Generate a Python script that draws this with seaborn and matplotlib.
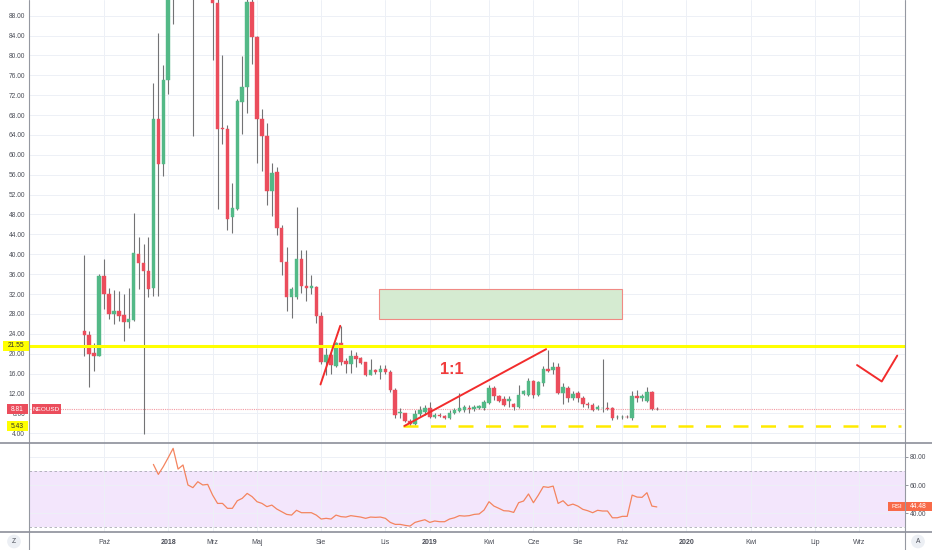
import numpy as np
import pandas as pd
import matplotlib
matplotlib.use('Agg')
import matplotlib.pyplot as plt
import matplotlib.transforms as mtransforms
from matplotlib.patches import Rectangle
from matplotlib.lines import Line2D
import seaborn as sns

# weekly NEOUSD candles, first bar week of 2017-09-04
first_week = '2017-09-04'
opens = [24.5, 23.8, 20.1, 19.6, 35.6, 32.1, 27.9, 28.6, 27.7, 26.4,
         26.8, 40.1, 38.2, 36.6, 33.2, 67.2, 58.1, 75.1, 110, 140,
         125, 130, 105, 100, 115, 110, 96, 90.6, 65.5, 65.3,
         47.4, 49.2, 70.7, 73.6, 90.8, 83.8, 67.2, 63.7, 52.8, 56.5,
         45.3, 38.5, 31.3, 31.3, 39.0, 33.6, 33.2, 33.5, 27.6, 18.4,
         19.7, 17.6, 22.1, 18.5, 17.9, 19.5, 19.1, 18.3, 15.8, 16.7,
         16.3, 16.9, 16.4, 12.6, 8.0, 8.0, 6.5, 5.85, 7.9, 8.3,
         9.0, 7.2, 7.6, 7.5, 7.0, 8.1, 8.5, 8.7, 9.0, 8.8,
         9.1, 9.0, 10.1, 13.0, 11.5, 10.8, 10.5, 9.8, 9.2, 11.9,
         11.7, 14.4, 11.7, 14.0, 16.9, 16.7, 17.4, 12.0, 13.0, 11.0,
         12.0, 11.0, 9.9, 9.7, 8.8, 9.0, 9.0, 9.0, 7.2, 7.2,
         7.3, 7.0, 11.5, 11.0, 10.5, 12.2, 8.9]
highs = [39.9, 24.5, 22.1, 36.0, 39.0, 33.3, 32.8, 32.6, 32.0, 33.3,
         48.4, 43.5, 42.1, 43.4, 74.4, 84.5, 78.1, 120, 162, 150,
         140, 135, 115, 125, 130, 120, 100, 93, 80.0, 66.0,
         54.4, 71.2, 79.8, 93, 92, 84.0, 69.2, 66.5, 58.3, 57.6,
         45.9, 41.4, 33.5, 49.5, 40.9, 40.9, 35.8, 33.6, 28.3, 21.1,
         20.4, 22.3, 25.6, 19.1, 20.7, 20.4, 19.3, 18.4, 18.9, 17.0,
         17.7, 17.7, 16.7, 13.0, 9.0, 8.1, 6.8, 8.7, 9.5, 9.7,
         10.3, 8.0, 8.0, 7.6, 8.7, 9.0, 12.0, 9.7, 9.7, 9.7,
         9.7, 10.7, 13.7, 13.4, 11.7, 11.4, 11.4, 10.1, 13.7, 12.7,
         15.0, 14.7, 14.4, 17.5, 20.7, 18.4, 18.1, 14.0, 13.4, 12.4,
         12.4, 11.4, 10.3, 10.0, 9.7, 18.9, 10.3, 9.2, 7.7, 7.7,
         7.7, 12.4, 12.6, 11.9, 13.3, 12.4, 9.2]
lows = [19.6, 13.2, 16.6, 19.5, 28.9, 27.0, 26.0, 26.6, 22.6, 25.1,
        26.5, 33.0, 3.8, 31.3, 31.5, 31.5, 55.8, 72.2, 86.3, 95,
        110, 95, 63.7, 95, 105, 94, 79.1, 49.2, 62.2, 44.9,
        44.2, 48.9, 64.2, 68.4, 78.2, 58.4, 56.8, 50.0, 47.6, 43.9,
        35.8, 28.6, 27.1, 31.0, 32.3, 30.5, 32.1, 26.1, 18.0, 15.7,
        16.0, 17.3, 17.7, 16.2, 16.2, 17.3, 17.9, 15.5, 15.7, 16.0,
        14.9, 16.0, 12.3, 7.0, 7.0, 6.2, 5.45, 5.6, 7.5, 7.7,
        7.0, 7.0, 7.2, 6.9, 6.8, 7.9, 8.3, 8.3, 8.1, 8.4,
        8.9, 8.7, 9.9, 10.7, 10.3, 9.5, 9.3, 8.7, 9.0, 11.7,
        11.4, 11.0, 11.4, 13.4, 16.4, 16.0, 11.9, 9.9, 10.3, 10.7,
        10.3, 9.3, 9.0, 8.5, 8.7, 8.3, 8.7, 6.7, 6.8, 6.9,
        7.0, 6.7, 10.3, 10.5, 10.3, 8.7, 8.6]
closes = [23.8, 19.9, 19.5, 35.6, 32.1, 27.9, 28.6, 27.6, 26.4, 27.0,
          40.2, 38.2, 36.6, 33.0, 67.2, 58.1, 75.1, 110, 140, 125,
          130, 105, 100, 115, 110, 96, 90.6, 65.3, 65.2, 47.1,
          49.4, 70.8, 73.6, 90.8, 83.8, 67.2, 63.7, 52.8, 56.3, 45.3,
          38.5, 31.3, 33.0, 39.0, 33.6, 33.2, 33.6, 27.6, 18.4, 19.7,
          17.7, 22.1, 18.4, 17.9, 19.5, 18.9, 18.2, 15.8, 16.7, 16.3,
          16.9, 16.3, 12.6, 7.7, 8.3, 6.5, 5.8, 7.8, 8.7, 9.0,
          7.2, 7.7, 7.5, 7.0, 8.1, 8.7, 9.1, 9.3, 8.9, 9.3,
          9.5, 10.3, 13.0, 11.4, 10.5, 9.7, 10.9, 9.2, 11.7, 12.4,
          14.4, 11.6, 14.2, 16.9, 16.6, 17.4, 12.0, 13.2, 11.0, 11.9,
          11.0, 9.9, 9.6, 8.7, 9.3, 9.05, 8.9, 7.0, 7.2, 7.3,
          7.2, 11.5, 11.0, 11.5, 12.2, 8.9, 8.81]

# RSI(14), first value on bar 14
rsi_start = 14
rsi_values = [74.7, 67.6, 73.1, 79.5, 86.1, 71.4, 74.3, 60.1, 58.2, 62.4,
              60.1, 60.5, 52.9, 47.0, 47.0, 43.5, 43.5, 48.9, 50.6, 54.1,
              51.8, 48.2, 47.0, 44.7, 45.8, 43.0, 41.1, 39.2, 38.7, 42.1,
              40.4, 40.4, 40.4, 38.7, 35.9, 36.4, 35.9, 38.7, 37.6, 37.3,
              38.3, 37.8, 37.3, 36.4, 37.3, 37.1, 37.3, 36.4, 33.5, 32.1,
              32.1, 31.4, 30.9, 33.5, 34.5, 35.4, 33.5, 34.5, 34.0, 34.0,
              35.9, 36.8, 38.3, 38.0, 38.3, 39.2, 39.5, 42.3, 48.2, 45.1,
              43.5, 41.8, 41.6, 40.6, 47.5, 48.7, 53.7, 47.5, 52.9, 58.9,
              58.4, 59.3, 47.0, 48.9, 45.4, 46.5, 45.1, 42.8, 41.8, 40.4,
              42.1, 41.6, 41.6, 36.8, 36.8, 37.8, 37.8, 52.9, 51.5, 51.3,
              54.6, 45.1, 44.5]

tick_dates = ['2017-10-02', '2018-01-01', '2018-03-05', '2018-05-07', '2018-08-06',
              '2018-11-05', '2019-01-07', '2019-04-01', '2019-06-03', '2019-08-05',
              '2019-10-07', '2020-01-06', '2020-04-06', '2020-07-06', '2020-09-07']
tick_labels = ['Paź', '2018', 'Mrz', 'Maj', 'Sie', 'Lis', '2019', 'Kwi', 'Cze',
               'Sie', 'Paź', '2020', 'Kwi', 'Lip', 'Wrz']

resistance = 21.55
support = 5.43
last_price = 8.81
last_rsi = 44.48

# drawings on the chart
zone_dates = ['2018-10-27', '2019-10-06']
zone_prices = [27.0, 33.0]
leg1_dates = ['2018-08-05', '2018-09-02']
leg1_prices = [13.8, 25.6]
leg2_dates = ['2018-12-02', '2019-06-21']
leg2_prices = [5.45, 20.9]
check_dates = ['2020-09-04', '2020-10-09', '2020-10-31']
check_prices = [17.7, 14.4, 19.6]
support_dates = ['2018-11-30', '2020-11-06']
ratio_date = '2019-02-07'
ratio_price = 16.9

sns.set_style('white')
plt.rcParams['font.family'] = ['Liberation Sans', 'DejaVu Sans']

W, H = 932, 550
fig = plt.figure(figsize=(W / 100, H / 100), dpi=100)
left, right = 29.3, 905
sep1, sep2 = 443.3, 531.7
ax = fig.add_axes([left / W, 1 - sep1 / H, (right - left) / W, sep1 / H])
ax2 = fig.add_axes([left / W, 1 - sep2 / H, (right - left) / W, (sep2 - sep1) / H])

dates = pd.date_range(first_week, periods=len(opens), freq='7D')
df = pd.DataFrame({'date': dates, 'open': opens, 'high': highs, 'low': lows, 'close': closes})
up = df['close'] >= df['open']
colors = np.where(up, '#53b987', '#eb4d5c')

xlim = (pd.Timestamp('2017-06-18'), pd.Timestamp('2020-11-11'))
grid_c = '#edf0f6'
txt_c = '#4a4d57'

# ---- main pane
ax.vlines(df['date'], df['low'], df['high'], color='#737375', lw=0.8, zorder=3)
body_low = df[['open', 'close']].min(axis=1)
body_h = (df['close'] - df['open']).abs().clip(lower=0.15)
ax.bar(df['date'], body_h, bottom=body_low, width=5, color=colors,
       edgecolor=colors, linewidth=0.3, zorder=4)

ax.axhline(resistance, color='#ffff00', lw=2.2, zorder=5)
ax.axhline(last_price, color='#f39aa2', lw=0.8, ls=(0, (1, 1)), zorder=2)
ax.plot(pd.to_datetime(support_dates), [support, support], color='#ffea00',
        lw=1.8, ls=(0, (6, 5)), zorder=5)

zx = pd.to_datetime(zone_dates)
ax.add_patch(Rectangle((zx[0], zone_prices[0]), zx[1] - zx[0], zone_prices[1] - zone_prices[0],
                       facecolor='#d5ebd1', edgecolor='#f08a84', lw=0.8, zorder=2))
for ds, ps in [(leg1_dates, leg1_prices), (leg2_dates, leg2_prices), (check_dates, check_prices)]:
    ax.plot(pd.to_datetime(ds), ps, color='#f22c2c', lw=1.4, zorder=6, solid_capstyle='round')
ax.text(pd.Timestamp(ratio_date), ratio_price, '1:1', color='#f03c3c', fontsize=11.7,
        fontweight='bold', ha='center', va='center', zorder=6)

ax.set_xlim(xlim)
ax.set_ylim(1.96, 91.16)
ax.set_yticks(np.arange(4, 89, 4))
ax.set_yticklabels(['%.2f' % v for v in np.arange(4, 89, 4)])
ax.set_xticks(pd.to_datetime(tick_dates))
ax.tick_params(axis='x', length=0, labelbottom=False)
ax.tick_params(axis='y', direction='out', length=2, width=0.5, color='#6b6e78',
               labelsize=4.8, labelcolor=txt_c, pad=1)
ax.grid(True, color=grid_c, lw=0.7)
ax.set_axisbelow(True)
for s in ax.spines.values():
    s.set_visible(False)

# price boxes on the scale
bt = mtransforms.blended_transform_factory(fig.transFigure, ax.transData)
ph = 10 / (sep1 / (91.16 - 1.96))
for price, text, fc, tc, x0, x1 in [(resistance, '21.55', '#ffff00', '#333333', 2.7, 29.3),
                                    (last_price, '8.81', '#eb4d5c', 'white', 6.7, 28.3),
                                    (support, '5.43', '#ffff00', '#333333', 6.7, 28.3)]:
    ax.add_patch(Rectangle((x0 / W, price - ph / 2), (x1 - x0) / W, ph, transform=bt,
                           facecolor=fc, edgecolor='none', clip_on=False, zorder=10))
    ax.text((x0 + x1) / 2 / W, price, text, transform=bt, ha='center', va='center',
            fontsize=4.8, color=tc, zorder=11, clip_on=False)
ax.add_patch(Rectangle((31.7 / W, last_price - ph / 2), 29.3 / W, ph, transform=bt,
                       facecolor='#eb4d5c', edgecolor='none', clip_on=False, zorder=10))
ax.text(46.3 / W, last_price, 'NEOUSD', transform=bt, ha='center', va='center',
        fontsize=4.6, color='white', zorder=11, clip_on=False)

# ---- RSI pane
rsi_df = pd.DataFrame({'date': dates[rsi_start:], 'rsi': rsi_values})
ax2.axhspan(30, 70, color='#f3e6fc', lw=0, zorder=0)
ax2.axhline(70, color='#a9abb3', lw=0.6, ls=(0, (3, 3)), zorder=1)
ax2.axhline(30, color='#a9abb3', lw=0.6, ls=(0, (3, 3)), zorder=1)
sns.lineplot(data=rsi_df, x='date', y='rsi', ax=ax2, color='#f4845f', lw=0.9, zorder=3)
ax2.set_xlabel('')
ax2.set_ylabel('')
ax2.set_xlim(xlim)
ax2.set_ylim(26.9, 89.7)
ax2.set_yticks([40, 60, 80])
ax2.set_yticklabels(['40.00', '60.00', '80.00'])
ax2.yaxis.tick_right()
ax2.set_xticks(pd.to_datetime(tick_dates))
ax2.set_xticklabels(tick_labels)
ax2.tick_params(axis='y', direction='out', length=2, width=0.5, color='#6b6e78',
                labelsize=4.8, labelcolor=txt_c, pad=1.5)
ax2.tick_params(axis='x', direction='out', length=2, width=0.5, color='#6b6e78',
                labelsize=5, labelcolor=txt_c, pad=3.5)
for lab in ax2.get_xticklabels():
    if lab.get_text().isdigit():
        lab.set_fontweight('bold')
ax2.grid(True, color=grid_c, lw=0.7)
ax2.set_axisbelow(True)
for s in ax2.spines.values():
    s.set_visible(False)

rt = mtransforms.blended_transform_factory(fig.transFigure, ax2.transData)
rh = 9 / ((sep2 - sep1) / (89.7 - 26.9))
ax2.add_patch(Rectangle((888 / W, last_rsi - rh / 2), 17 / W, rh, transform=rt,
                        facecolor='#f86a48', edgecolor='none', clip_on=False, zorder=10))
ax2.add_patch(Rectangle((905 / W, last_rsi - rh / 2), 27 / W, rh, transform=rt,
                        facecolor='#f86a48', edgecolor='none', clip_on=False, zorder=10))
ax2.text(896.5 / W, last_rsi, 'RSI', transform=rt, ha='center', va='center',
         fontsize=4.6, color='white', zorder=11, clip_on=False)
ax2.text(918.5 / W, last_rsi, '%.2f' % last_rsi, transform=rt, ha='center', va='center',
         fontsize=4.8, color='white', zorder=11, clip_on=False)

# pane borders
for xp in (left, right):
    fig.add_artist(Line2D([xp / W, xp / W], [0, 1], color='#9598a1', lw=0.8))
for yp in (sep1, sep2):
    fig.add_artist(Line2D([0, 1], [1 - yp / H, 1 - yp / H], color='#8c8f99', lw=1.2))

for xp, letter in [(14, 'Z'), (918, 'A')]:
    fig.text(xp / W, 1 - 541.5 / H, letter, ha='center', va='center', fontsize=4.8,
             color=txt_c, bbox=dict(boxstyle='circle,pad=0.5', fc='#eceff4', ec='none'))

fig.savefig('out.png', dpi=100, facecolor='white')
